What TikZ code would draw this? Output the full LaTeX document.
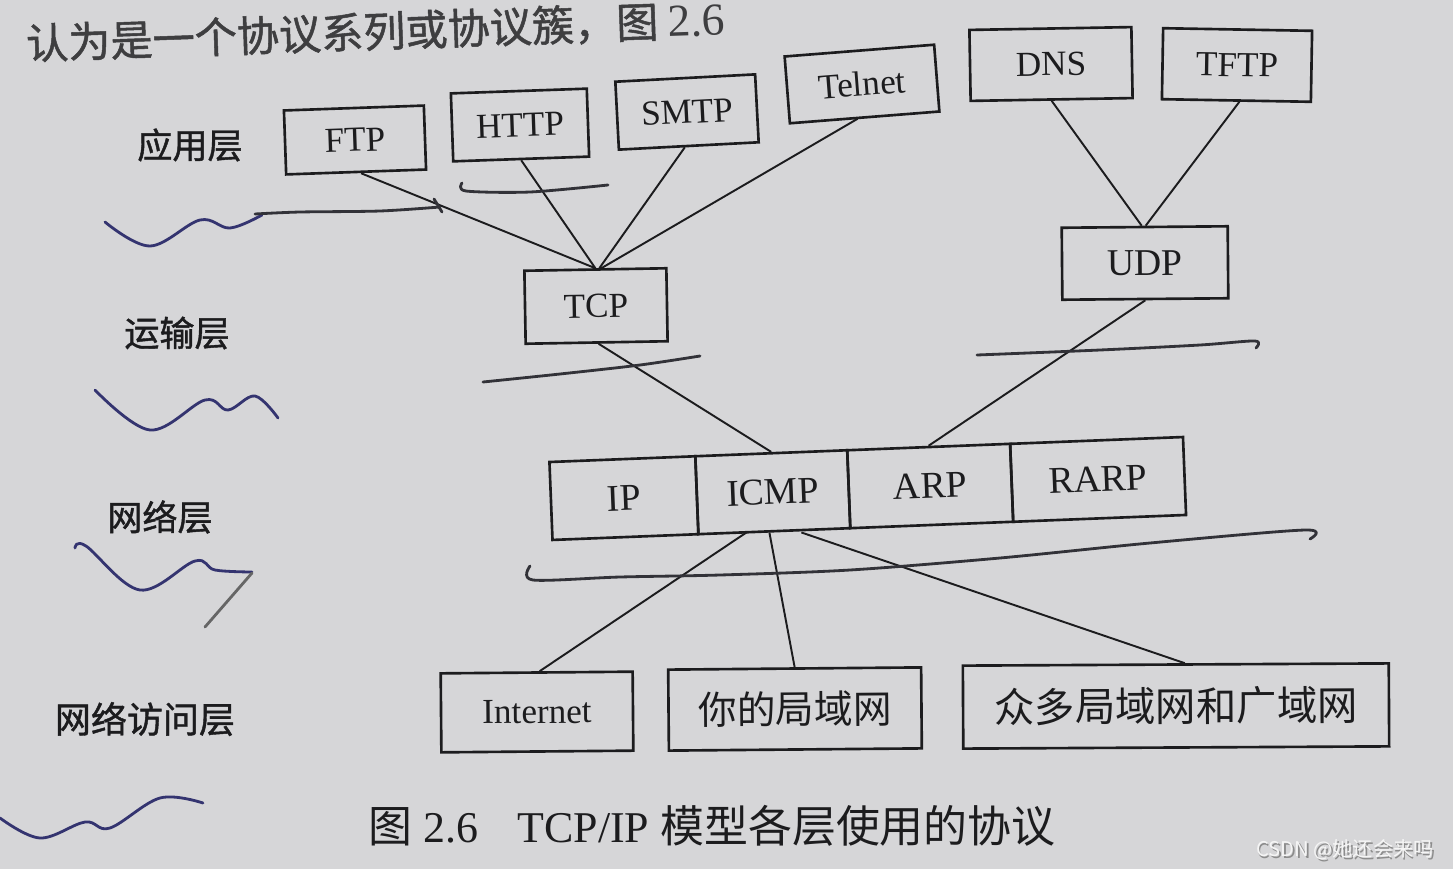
\documentclass[tikz,border=0pt]{standalone}
\usepackage{fontspec}
\setmainfont{Liberation Serif}
\newfontfamily\cjk{Noto Sans CJK SC}
\newfontfamily\cjkb{Noto Sans CJK SC}[FakeBold=1.2]
\usetikzlibrary{calc}
\definecolor{paper}{RGB}{214,214,216}
\definecolor{ink}{RGB}{28,28,30}
\definecolor{pen}{RGB}{52,52,112}
\definecolor{pencil}{RGB}{50,50,56}
\tikzset{
  box/.style={draw=ink, line width=1.5pt, inner sep=0pt, text=ink,
    font=\fontsize{20}{22}\selectfont},
  cbox/.style={box, font=\cjk\fontsize{22}{24}\selectfont},
  rowbox/.style={box, minimum height=1.56cm, rotate=2.26,
    font=\fontsize{21.5}{23}\selectfont},
  link/.style={draw=ink, line width=1.1pt},
  layer/.style={text=ink, font=\cjkb\fontsize{20}{22}\selectfont},
  wave/.style={draw=pen, line width=1.6pt, line cap=round, line join=round},
  stroke/.style={draw=pencil, line width=1.6pt, line cap=round, line join=round},
  caption/.style={text=ink, font=\fontsize{25}{27}\selectfont},
}
\begin{document}
\begin{tikzpicture}[x=0.02cm, y=-0.02cm]
\fill[paper] (0,0) rectangle (1453,869);
\useasboundingbox (0,0) rectangle (1453,869);

% top text line (partly cut)
\node[anchor=west, rotate=2, text=ink!85, font=\cjkb\fontsize{24}{26}\selectfont] (topline) at (20,44)
  {认为是一个协议系列或协议簇，图 {\fontsize{26}{28}\selectfont\rmfamily 2.6}};

% layer labels
\node[layer] (l1) at (190,145) {应用层};
\node[layer] (l2) at (177,333) {运输层};
\node[layer] (l3) at (160,517) {网络层};
\node[layer, font=\cjkb\fontsize{20.5}{22}\selectfont] (l4) at (145,719) {网络访问层};

% application layer
\node[box, minimum width=2.8cm,  minimum height=1.28cm, rotate=2]   (ftp)    at (355,140) {FTP};
\node[box, minimum width=2.72cm, minimum height=1.36cm, rotate=2]   (http)   at (520,125) {HTTP};
\node[box, minimum width=2.8cm,  minimum height=1.36cm, rotate=3]   (smtp)   at (687,112) {SMTP};
\node[box, minimum width=3.0cm,  minimum height=1.34cm, rotate=4.5] (telnet) at (862,84)  {Telnet};
\node[box, minimum width=3.24cm, minimum height=1.42cm, rotate=1]   (dns)    at (1051,64) {DNS};
\node[box, minimum width=2.98cm, minimum height=1.42cm, rotate=-1]  (tftp)   at (1237,65) {TFTP};

% transport layer
\node[box, minimum width=2.84cm, minimum height=1.46cm, rotate=1] (tcp) at (596,306) {TCP};
\node[box, minimum width=3.32cm, minimum height=1.44cm, rotate=0.5, font=\fontsize{21.5}{23}\selectfont] (udp) at (1145,263) {UDP};

% network layer row
\node[rowbox, minimum width=2.92cm] (ip)   at (623.9,498.1) {IP};
\node[rowbox, minimum width=3.04cm] (icmp) at (772.8,492.2) {ICMP};
\node[rowbox, minimum width=3.26cm] (arp)  at (930.2,486.0) {ARP};
\node[rowbox, minimum width=3.46cm] (rarp) at (1098.1,479.4) {RARP};

% network access layer
\node[box,  minimum width=3.84cm, minimum height=1.58cm, rotate=0.5] (inet) at (537,712) {Internet};
\node[cbox, minimum width=5.06cm, minimum height=1.62cm, rotate=0.5] (lan)  at (795,709) {你的局域网};
\node[cbox, minimum width=8.52cm, minimum height=1.66cm, rotate=0.3, font=\cjk\fontsize{23}{25}\selectfont] (wan) at (1176,706) {众多局域网和广域网};

% connectors
\draw[link] ([xshift=0.1cm]ftp.south)     -- (tcp.north);
\draw[link] (http.south)                  -- (tcp.north);
\draw[link] ([xshift=-0.08cm]smtp.south)  -- ([xshift=0.08cm]tcp.north);
\draw[link] ([xshift=-0.14cm]telnet.south)-- ([xshift=0.12cm]tcp.north);
\draw[link] (dns.south)                   -- ([xshift=-0.06cm]udp.north);
\draw[link] ([xshift=0.06cm]tftp.south)   -- ([xshift=0.02cm]udp.north);
\draw[link] ([xshift=0.04cm]tcp.south)    -- (icmp.north);
\draw[link] (udp.south)                   -- (arp.north);
\draw[link] ([xshift=-0.56cm]icmp.south)  -- ([xshift=0.06cm]inet.north);
\draw[link] ([xshift=-0.1cm]icmp.south)   -- (lan.north);
\draw[link] ([xshift=0.54cm]icmp.south)   -- ([xshift=0.18cm]wan.north);

% caption
\node[caption, anchor=west] (cap) at (362,826)
  {{\cjk 图} 2.6\hspace{0.9em}TCP/IP {\cjk 模型各层使用的协议}};

% watermark
\node[anchor=east, text=black!45, font=\cjk\fontsize{11.5}{13}\selectfont] at (1441.5,851.5) {CSDN @她还会来吗};
\node[anchor=east, text=white!96!black, font=\cjk\fontsize{11.5}{13}\selectfont] (wm) at (1440,850) {CSDN @她还会来吗};

% hand-drawn pen marks (blue waves)
\draw[wave] plot[smooth, tension=0.6] coordinates {(105,222) (150,246) (200,220) (230,228) (262,215)};
\draw[wave] plot[smooth, tension=0.6] coordinates {(95,390) (150,430) (205,400) (228,410) (255,396) (278,418)};
\draw[wave] plot[smooth, tension=0.6] coordinates {(75,548) (86,546) (140,590) (195,561) (215,570) (252,572)};
\draw[wave] plot[smooth, tension=0.6] coordinates {(0,818) (40,838) (85,822) (110,828) (160,798) (203,803)};

% pencil strokes
\draw[stroke, draw=gray!80!black] (252,573) -- (205,627);
\draw[stroke] plot[smooth] coordinates {(255,214) (300,212) (380,211) (440,207)};
\draw[stroke] (434,199) -- (442,212);
\draw[stroke] plot[smooth] coordinates {(462,183) (466,191) (530,192) (608,185)};
\draw[stroke] plot[smooth] coordinates {(483,382) (560,374) (640,365) (700,356)};
\draw[stroke] plot[smooth] coordinates {(977,355) (1100,350) (1200,345) (1255,341) (1256,348)};
\draw[stroke] plot[smooth, tension=0.5] coordinates {(530,566) (533,580) (620,577) (720,575) (850,570) (1000,558) (1150,543) (1305,530) (1310,539)};
\end{tikzpicture}
\end{document}
